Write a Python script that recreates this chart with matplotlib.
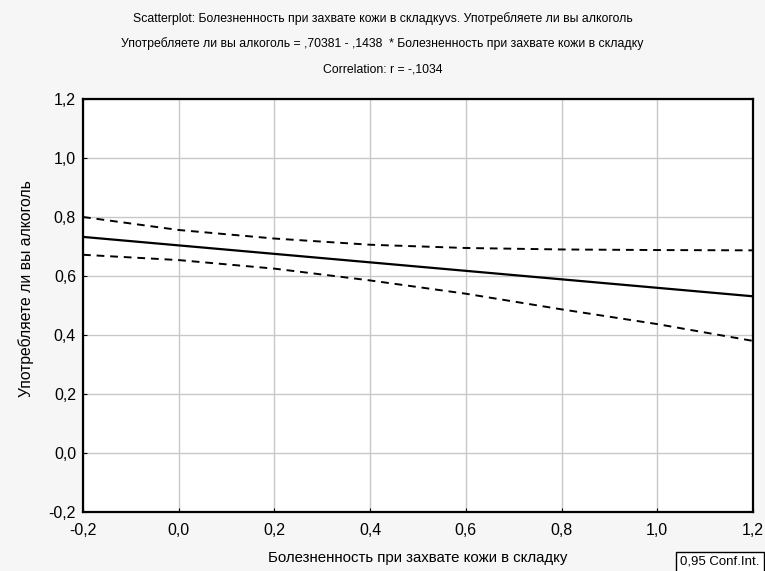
import matplotlib.pyplot as plt
import numpy as np

plt.rcParams['font.family'] = ['Liberation Sans Narrow', 'Liberation Sans', 'DejaVu Sans']

# регрессия и доверительные границы
x_pts = [-0.2, 0.0, 0.2, 0.4, 0.6, 0.8, 1.0, 1.2]
upper = [0.800, 0.756, 0.727, 0.706, 0.695, 0.690, 0.688, 0.687]
lower = [0.672, 0.654, 0.625, 0.585, 0.540, 0.487, 0.437, 0.380]
b0 = 0.70381
b1 = -0.1438

ticks = [-0.2, 0.0, 0.2, 0.4, 0.6, 0.8, 1.0, 1.2]
tick_labels = ['-0,2', '0,0', '0,2', '0,4', '0,6', '0,8', '1,0', '1,2']

fig = plt.figure(figsize=(7.65, 5.71), dpi=100, facecolor='#f6f6f6')
ax = fig.add_axes([0.1085, 0.1033, 0.8758, 0.7233])

xs = np.array(x_pts)
ax.plot(xs, b0 + b1 * xs, color='black', lw=1.6)
ax.plot(x_pts, upper, color='black', lw=1.4, ls=(0, (4, 3)))
ax.plot(x_pts, lower, color='black', lw=1.4, ls=(0, (4, 3)))

ax.set_xlim(-0.2, 1.2)
ax.set_ylim(-0.2, 1.2)
ax.set_xticks(ticks)
ax.set_xticklabels(tick_labels)
ax.set_yticks(ticks)
ax.set_yticklabels(tick_labels)
ax.grid(color='#c8c8c8', lw=1)
ax.set_axisbelow(True)
ax.tick_params(direction='in', length=3, labelsize=11.5, color='black')
ax.tick_params(axis='x', pad=8)
ax.tick_params(axis='y', pad=5)
for s in ax.spines.values():
    s.set_linewidth(1.6)

ax.set_xlabel('Болезненность при захвате кожи в складку', fontsize=10.8, labelpad=9)
ax.set_ylabel('Употребляете ли вы алкоголь', fontsize=11.3)
ax.yaxis.set_label_coords(-0.073, 0.54)

fig.text(0.5, 0.968, 'Scatterplot: Болезненность при захвате кожи в складкуvs. Употребляете ли вы алкоголь',
         ha='center', va='center', fontsize=8.8)
fig.text(0.5, 0.923, 'Употребляете ли вы алкоголь = ,70381 - ,1438  * Болезненность при захвате кожи в складку',
         ha='center', va='center', fontsize=8.8)
fig.text(0.5, 0.878, 'Correlation: r = -,1034',
         ha='center', va='center', fontsize=8.8)

fig.text(0.889, 0.016, '0,95 Conf.Int.', ha='left', va='center', fontsize=9.5,
         bbox=dict(facecolor='white', edgecolor='black', lw=1, pad=3))

plt.savefig('out.png', dpi=100, facecolor=fig.get_facecolor())
